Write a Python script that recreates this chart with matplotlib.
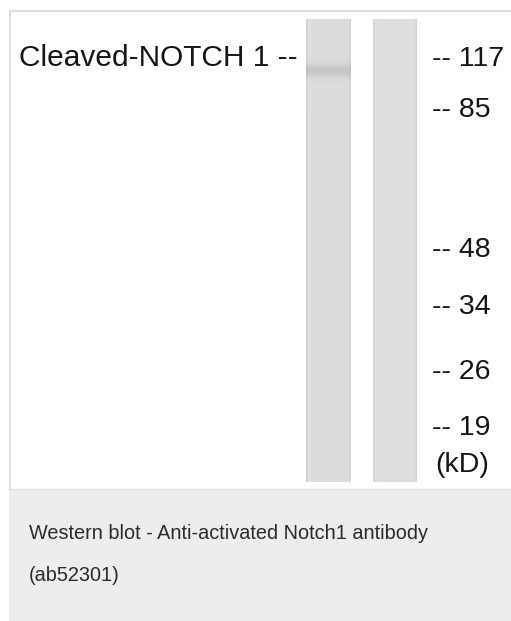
import numpy as np
import matplotlib
matplotlib.use("Agg")
import matplotlib.pyplot as plt
from matplotlib.patches import Rectangle

# === Blot data ===
marker_kd = [117, 85, 48, 34, 26, 19]
marker_y = [66, 117, 257, 314, 379, 435]   # baseline row of each ladder label
lane_names = ["lane 1", "lane 2"]
lane_tone = [0.86, 0.87]                    # background grey of each lane
band_row = [70, None]                       # Cleaved-NOTCH 1 band, lane 1 only
band_depth = [0.09, 0.0]

target_label = "Cleaved-NOTCH 1 --"
caption = ["Western blot - Anti-activated Notch1 antibody", "(ab52301)"]

W, H = 511, 621
plt.rcParams['font.family'] = ['Liberation Sans', 'DejaVu Sans']

fig = plt.figure(figsize=(W / 100, H / 100), dpi=100)
ax = fig.add_axes([0, 0, 1, 1])
ax.set_xlim(0, W)
ax.set_ylim(H, 0)
ax.axis('off')

# === Frame and caption panel ===
ax.plot([10, W], [11, 11], color='#dddddd', lw=1.5)
ax.plot([10, 10], [11, 489], color='#dddddd', lw=1.5)
ax.add_patch(Rectangle((9, 489), W - 9, H - 489, facecolor='#eceeee', edgecolor='none'))
ax.plot([9, W], [489, 489], color='#e0e2e2', lw=1)

# === Lanes ===
lane_x = [(306, 351), (373, 417)]
top, bottom = 19, 482
rows = np.arange(top, bottom)
for (x0, x1), tone, by, depth in zip(lane_x, lane_tone, band_row, band_depth):
    cols = np.arange(x0, x1)
    img = np.full((len(rows), len(cols)), tone)
    # slightly darker lane edges
    img[:, :2] -= 0.03
    img[:, -2:] -= 0.03
    img[:, 2:4] += 0.015
    if by is not None:
        prof = np.exp(-((rows - by) / 6.5) ** 2)
        img -= depth * prof[:, None]
    ax.imshow(img, cmap='gray', vmin=0, vmax=1, extent=[x0, x1, bottom, top],
              aspect='auto', interpolation='bilinear', zorder=2)

# === Labels ===
ax.text(19, 66, target_label, fontsize=21.5, color='#151515', va='baseline', ha='left')
for kd, y in zip(marker_kd, marker_y):
    ax.text(432, y, "-- %d" % kd, fontsize=20.5, color='#151515', va='baseline', ha='left')
ax.text(435, 472, "(kD)", fontsize=20.5, color='#151515', va='baseline', ha='left')

ax.text(29, 539, caption[0], fontsize=14.3, color='#2a2a2a', va='baseline', ha='left')
ax.text(29, 581, caption[1], fontsize=14.3, color='#2a2a2a', va='baseline', ha='left')

fig.savefig("out.png", dpi=100, facecolor='white')
